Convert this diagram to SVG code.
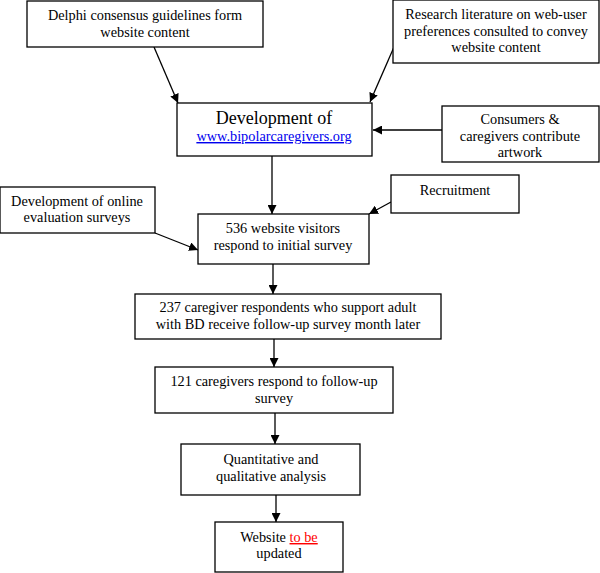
<svg xmlns="http://www.w3.org/2000/svg" width="600" height="573" viewBox="0 0 600 573">
<style>
rect.b{fill:#fff;stroke:#000;stroke-width:1.3}
text{font-size:14.3px;text-anchor:middle;fill:#000}
.c line{stroke:#000;stroke-width:1.3}
</style>
<defs>
<marker id="ah" viewBox="0 0 10 10" refX="10" refY="5" markerWidth="9" markerHeight="9" markerUnits="userSpaceOnUse" orient="auto">
<path d="M0,0L10,5L0,10z" fill="#000"/>
</marker>
</defs>
<rect width="600" height="573" fill="#fff"/>
<g class="c">
<line x1="154" y1="47" x2="178" y2="103" marker-end="url(#ah)"/>
<line x1="394" y1="47" x2="370" y2="102" marker-end="url(#ah)"/>
<line x1="442" y1="130" x2="373" y2="130" marker-end="url(#ah)"/>
<line x1="272" y1="156" x2="272" y2="214" marker-end="url(#ah)"/>
<line x1="155" y1="233" x2="198" y2="250" marker-end="url(#ah)"/>
<line x1="391" y1="202" x2="369" y2="214" marker-end="url(#ah)"/>
<line x1="273" y1="264" x2="273" y2="294" marker-end="url(#ah)"/>
<line x1="274" y1="339" x2="274" y2="367" marker-end="url(#ah)"/>
<line x1="275" y1="413" x2="275" y2="444" marker-end="url(#ah)"/>
<line x1="276" y1="495" x2="276" y2="522" marker-end="url(#ah)"/>
</g>
<g font-family="'Liberation Serif', 'Times New Roman', 'DejaVu Serif', serif">
<g id="delphi"><rect class="b" x="27" y="1" width="236" height="46"/>
<text x="145" y="20">Delphi consensus guidelines form</text>
<text x="145" y="37">website content</text></g>
<g id="research"><rect class="b" x="393" y="0" width="206" height="63"/>
<text x="496" y="19">Research literature on web-user</text>
<text x="496" y="36">preferences consulted to convey</text>
<text x="496" y="52">website content</text></g>
<g id="dev"><rect class="b" x="177" y="103" width="195" height="53"/>
<text x="274" y="124" style="font-size:18px">Development of</text>
<text x="274" y="141" style="fill:#0000ee" text-decoration="underline">www.bipolarcaregivers.org</text></g>
<g id="consumers"><rect class="b" x="442" y="106" width="157" height="56"/>
<text x="520" y="124">Consumers &amp;</text>
<text x="520" y="141">caregivers contribute</text>
<text x="520" y="157">artwork</text></g>
<g id="online"><rect class="b" x="0" y="187" width="155" height="46"/>
<text x="77" y="206">Development of online</text>
<text x="77" y="222">evaluation surveys</text></g>
<g id="recruit"><rect class="b" x="391" y="175" width="128" height="38"/>
<text x="455" y="195">Recruitment</text></g>
<g id="n536"><rect class="b" x="198" y="214" width="171" height="50"/>
<text x="283" y="233">536 website visitors</text>
<text x="283" y="250">respond to initial survey</text></g>
<g id="n237"><rect class="b" x="135" y="294" width="306" height="45"/>
<text x="288" y="312">237 caregiver respondents who support adult</text>
<text x="288" y="329">with BD receive follow-up survey month later</text></g>
<g id="n121"><rect class="b" x="155" y="367" width="238" height="46"/>
<text x="274" y="386">121 caregivers respond to follow-up</text>
<text x="274" y="403">survey</text></g>
<g id="quant"><rect class="b" x="181" y="444" width="179" height="51"/>
<text x="271" y="464">Quantitative and</text>
<text x="271" y="481">qualitative analysis</text></g>
<g id="website"><rect class="b" x="215" y="522" width="128" height="50"/>
<text x="279" y="542">Website <tspan style="fill:#ff0000" text-decoration="underline">to be</tspan></text>
<text x="279" y="558">updated</text></g>
</g>
</svg>
